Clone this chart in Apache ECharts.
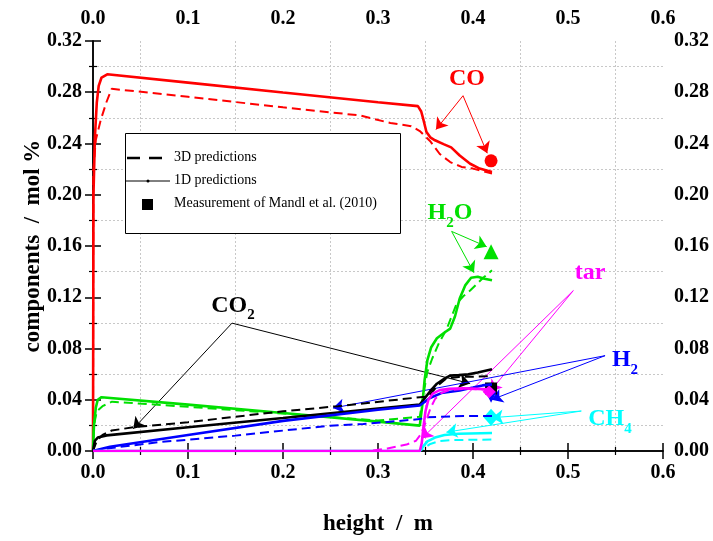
<!DOCTYPE html>
<html>
<head>
<meta charset="utf-8">
<script src="https://cdn.jsdelivr.net/npm/echarts@6/dist/echarts.min.js"></script>
<style>
  html, body { margin: 0; padding: 0; background: #fff; }
  #chart { width: 713px; height: 541px; }
</style>
</head>
<body>
<div id="chart"></div>
<script>
// axis ranges
const xRange = [0, 0.6, 0.1]
const yRange = [0, 0.32, 0.04]

// CO
const co1D = [[0,0],[0.0005,0.2],[0.002,0.245],[0.004,0.272],[0.006,0.285],[0.009,0.2915],[0.015,0.294],[0.1,0.2875],[0.2,0.2798],[0.3,0.2722],[0.342,0.2692],[0.3455,0.265],[0.348,0.258],[0.351,0.249],[0.355,0.2448],[0.36,0.2425],[0.369,0.2395],[0.377,0.237],[0.386,0.2306],[0.397,0.2242],[0.407,0.2204],[0.42,0.2178]]
const co3D = [[0,0],[0.0003,0.219],[0.003,0.243],[0.008,0.258],[0.014,0.272],[0.0197,0.2827],[0.1,0.2765],[0.2,0.2682],[0.281,0.2619],[0.313,0.256],[0.335,0.2535],[0.344,0.2497],[0.3547,0.242],[0.365,0.2318],[0.376,0.2255],[0.388,0.2217],[0.4,0.2204],[0.42,0.2166]]
// H2O
const h2o1D = [[0,0],[0.001,0.02],[0.003,0.034],[0.005,0.04],[0.009,0.042],[0.1,0.0362],[0.2,0.0296],[0.3,0.0229],[0.344,0.0198],[0.3465,0.035],[0.349,0.055],[0.352,0.071],[0.356,0.081],[0.362,0.088],[0.37,0.0925],[0.376,0.0955],[0.381,0.105],[0.386,0.119],[0.392,0.1295],[0.398,0.1352],[0.405,0.136],[0.412,0.1345],[0.42,0.1333]]
const h2o3D = [[0,0],[0.001,0.02],[0.004,0.031],[0.01,0.035],[0.02,0.0385],[0.1,0.0345],[0.2,0.0292],[0.3,0.0238],[0.335,0.0262],[0.344,0.0268],[0.348,0.045],[0.352,0.062],[0.357,0.072],[0.364,0.084],[0.372,0.0947],[0.3828,0.115],[0.39,0.121],[0.397,0.1252],[0.405,0.131],[0.411,0.1354],[0.42,0.141]]
// CO2
const co21D = [[0,0],[0.002,0.008],[0.005,0.0105],[0.0144,0.0122],[0.1,0.0185],[0.2,0.0258],[0.3,0.0332],[0.344,0.0362],[0.349,0.041],[0.3547,0.0465],[0.362,0.0525],[0.37,0.0565],[0.3758,0.0588],[0.385,0.0592],[0.395,0.0598],[0.405,0.0612],[0.42,0.0638]]
const co23D = [[0,0],[0.004,0.008],[0.01,0.0125],[0.0197,0.016],[0.0424,0.0185],[0.1,0.0225],[0.2,0.031],[0.258,0.035],[0.337,0.0414],[0.344,0.042],[0.353,0.0424],[0.362,0.0505],[0.372,0.0566],[0.385,0.0578],[0.4,0.058],[0.42,0.0585]]
// H2
const h21D = [[0,0],[0.005,0.001],[0.0179,0.0033],[0.1,0.0125],[0.2,0.0235],[0.3,0.0322],[0.344,0.0355],[0.3547,0.0414],[0.3667,0.0452],[0.386,0.0472],[0.4,0.0495],[0.41,0.0512],[0.42,0.052]]
const h23D = [[0,0],[0.01,0.0015],[0.0705,0.007],[0.15,0.012],[0.2495,0.0198],[0.2845,0.021],[0.344,0.0249],[0.35,0.0262],[0.365,0.0267],[0.39,0.0274],[0.42,0.0274]]
// CH4
const ch41D = [[0,0],[0.344,0],[0.348,0.004],[0.352,0.0075],[0.36,0.0105],[0.37,0.0125],[0.385,0.0135],[0.42,0.014]]
const ch43D = [[0,0],[0.344,0],[0.35,0.003],[0.355,0.0055],[0.365,0.0078],[0.38,0.0086],[0.42,0.0089]]
// tar
const tar1D = [[0,0],[0.344,0],[0.346,0.006],[0.348,0.02],[0.35,0.031],[0.353,0.04],[0.358,0.045],[0.365,0.0475],[0.375,0.0485],[0.39,0.049],[0.405,0.0485],[0.42,0.048]]
const tar3D = [[0,0],[0.29,0],[0.31,0.002],[0.33,0.005],[0.34,0.008],[0.345,0.013],[0.35,0.022],[0.355,0.033],[0.36,0.0405],[0.366,0.045],[0.375,0.0475],[0.39,0.0485],[0.42,0.0478]]

// measurements (Mandl et al. 2010)
const measCO = [[0.419, 0.2265]]
const measH2O = [[0.419, 0.1555]]
const measCO2 = [[0.419, 0.0488]]
const measH2 = [[0.419, 0.042]]
const measTar = [[0.417, 0.0462]]
const measCH4 = [[0.419, 0.0264]]

// annotation arrows: [from, to]
const arrowsCO = [[[0.3895,0.2773],[0.361,0.2509]],[[0.3895,0.2773],[0.415,0.2324]]]
const arrowsH2O = [[[0.3775,0.1714],[0.4144,0.1595]],[[0.3775,0.1714],[0.401,0.1392]]]
const arrowsCO2 = [[[0.1463,0.0998],[0.0424,0.0173]],[[0.1463,0.0998],[0.397,0.0526]]]
const arrowsTar = [[[0.5056,0.1252],[0.418,0.0465]],[[0.5056,0.1252],[0.346,0.0097]]]
const arrowsH2 = [[[0.539,0.0744],[0.4196,0.040]],[[0.539,0.0744],[0.2526,0.0335]]]
const arrowsCH4 = [[[0.514,0.0312],[0.42,0.026]],[[0.514,0.0312],[0.372,0.0147]]]

// annotation label anchors
const notes = [
  { pos: [0.3937, 0.2905], text: '{m|CO}', color: '#ff0000' },
  { pos: [0.3758, 0.1859], text: '{m|H}{s|2}{m|O}', color: '#00e000' },
  { pos: [0.1474, 0.1135], text: '{m|CO}{s|2}', color: '#000000' },
  { pos: [0.5232, 0.1394], text: '{m|tar}', color: '#ff00ff' },
  { pos: [0.5600, 0.0709], text: '{m|H}{s|2}', color: '#0000ff' },
  { pos: [0.5442, 0.0251], text: '{m|CH}{s|4}', color: '#00ffff' }
]

const serif = 'Liberation Serif'
const RED = '#ff0000'
const GREEN = '#00e000'
const BLACK = '#000000'
const BLUE = '#0000ff'
const CYAN = '#00ffff'
const MAGENTA = '#ff00ff'

function solid (name, data, color) {
  return {
    name: name, type: 'line', data: data, showSymbol: false, symbol: 'none',
    silent: true, animation: false,
    lineStyle: { color: color, width: 2.6 }
  }
}
function dashed (name, data, color) {
  return {
    name: name, type: 'line', data: data, showSymbol: false, symbol: 'none',
    silent: true, animation: false,
    lineStyle: { color: color, width: 2, type: [9, 5] }
  }
}
function meas (data, symbol, size, color) {
  return {
    type: 'scatter', data: data, symbol: symbol, symbolSize: size,
    silent: true, animation: false, itemStyle: { color: color, opacity: 1 }
  }
}
function arrows (list, color) {
  return {
    type: 'lines', coordinateSystem: 'cartesian2d', silent: true, animation: false,
    symbol: ['none', 'arrow'], symbolSize: 11,
    lineStyle: { color: color, width: 1, opacity: 1 },
    data: list.map(a => ({ coords: a }))
  }
}

const tickAxis = {
  axisLine: { show: true, lineStyle: { color: '#000', width: 1.5 } },
  axisTick: { show: true, inside: true, length: 8, lineStyle: { color: '#000', width: 1.5 } },
  minorTick: { show: true, splitNumber: 2, length: 4, lineStyle: { color: '#000', width: 1.2 } },
  splitLine: { show: false }
}
const labelStyle = { color: '#000', fontFamily: serif, fontWeight: 'bold', fontSize: 20 }

let chart = echarts.init(document.getElementById('chart'))
chart.setOption({
  animation: false,
  backgroundColor: '#fff',
  grid: { left: 93, right: 50, top: 41, bottom: 80 },
  xAxis: [
    Object.assign({
      type: 'value', position: 'bottom', min: xRange[0], max: xRange[1], interval: xRange[2],
      name: 'height  /  m', nameLocation: 'middle', nameGap: 62,
      nameTextStyle: { color: '#000', fontFamily: serif, fontWeight: 'bold', fontSize: 23 },
      axisLabel: Object.assign({ margin: 12, formatter: v => v.toFixed(1) }, labelStyle),
      minorSplitLine: { show: true, lineStyle: { color: '#c8c8c8', type: [2, 2], width: 1 } }
    }, tickAxis),
    Object.assign({
      type: 'value', position: 'top', min: xRange[0], max: xRange[1], interval: xRange[2],
      axisLabel: Object.assign({ margin: 12, formatter: v => v.toFixed(1) }, labelStyle)
    }, tickAxis)
  ],
  yAxis: [
    Object.assign({
      type: 'value', position: 'left', min: yRange[0], max: yRange[1], interval: yRange[2],
      name: 'components  /  mol %', nameLocation: 'middle', nameGap: 48, nameMoveOverlap: false,
      nameTextStyle: { color: '#000', fontFamily: serif, fontWeight: 'bold', fontSize: 23 },
      axisLabel: Object.assign({ margin: 11, formatter: v => v.toFixed(2) }, labelStyle),
      minorSplitLine: { show: true, lineStyle: { color: '#c8c8c8', type: [2, 2], width: 1 } }
    }, tickAxis),
    Object.assign({
      type: 'value', position: 'right', min: yRange[0], max: yRange[1], interval: yRange[2],
      axisLabel: Object.assign({ margin: 11, formatter: v => v.toFixed(2) }, labelStyle)
    }, tickAxis)
  ],
  series: [
    dashed('CO 3D', co3D, RED),
    solid('CO 1D', co1D, RED),
    dashed('H2O 3D', h2o3D, GREEN),
    solid('H2O 1D', h2o1D, GREEN),
    dashed('CO2 3D', co23D, BLACK),
    solid('CO2 1D', co21D, BLACK),
    dashed('H2 3D', h23D, BLUE),
    solid('H2 1D', h21D, BLUE),
    dashed('CH4 3D', ch43D, CYAN),
    solid('CH4 1D', ch41D, CYAN),
    dashed('tar 3D', tar3D, MAGENTA),
    solid('tar 1D', tar1D, MAGENTA),
    meas(measCO, 'circle', 13, RED),
    meas(measH2O, 'triangle', 15, GREEN),
    meas(measCO2, 'rect', 12, BLACK),
    meas(measH2, 'path://M0,0 L20,0 L10,17 Z', 11, BLUE),
    meas(measCH4, 'diamond', [15, 17], CYAN),
    meas(measTar, 'path://M0,10 L10,0 L20,10 L10,20 Z', 13, MAGENTA),
    arrows(arrowsCO, RED),
    arrows(arrowsH2O, GREEN),
    arrows(arrowsCO2, BLACK),
    arrows(arrowsTar, MAGENTA),
    arrows(arrowsH2, BLUE),
    arrows(arrowsCH4, CYAN),
    {
      type: 'scatter', symbolSize: 0, silent: true, animation: false, z: 5,
      itemStyle: { opacity: 1 },
      data: notes.map(n => ({
        value: n.pos,
        label: {
          show: true, position: 'inside', formatter: n.text, opacity: 1,
          rich: {
            m: { color: n.color, fontFamily: serif, fontWeight: 'bold', fontSize: 24 },
            s: { color: n.color, fontFamily: serif, fontWeight: 'bold', fontSize: 15, padding: [20, 0, 0, 0] }
          }
        }
      }))
    }
  ],
  graphic: [
    { type: 'rect', left: 125, top: 133, shape: { width: 275, height: 100 },
      style: { fill: '#fff', stroke: '#000', lineWidth: 1 }, z: 10 },
    { type: 'line', shape: { x1: 127, y1: 158, x2: 162, y2: 158 },
      style: { stroke: '#000', lineWidth: 2.5, lineDash: [13, 9] }, z: 11 },
    { type: 'line', shape: { x1: 125, y1: 181, x2: 170, y2: 181 },
      style: { stroke: '#000', lineWidth: 1 }, z: 11 },
    { type: 'circle', shape: { cx: 148, cy: 181, r: 1.5 }, style: { fill: '#000' }, z: 11 },
    { type: 'rect', shape: { x: 142, y: 199, width: 11, height: 11 }, style: { fill: '#000' }, z: 11 },
    { type: 'text', left: 174, top: 150, z: 11,
      style: { text: '3D predictions', fill: '#000', font: '14px "Liberation Serif"' } },
    { type: 'text', left: 174, top: 173, z: 11,
      style: { text: '1D predictions', fill: '#000', font: '14px "Liberation Serif"' } },
    { type: 'text', left: 174, top: 196, z: 11,
      style: { text: 'Measurement of Mandl et al. (2010)', fill: '#000', font: '14px "Liberation Serif"' } }
  ]
})
</script>
</body>
</html>
